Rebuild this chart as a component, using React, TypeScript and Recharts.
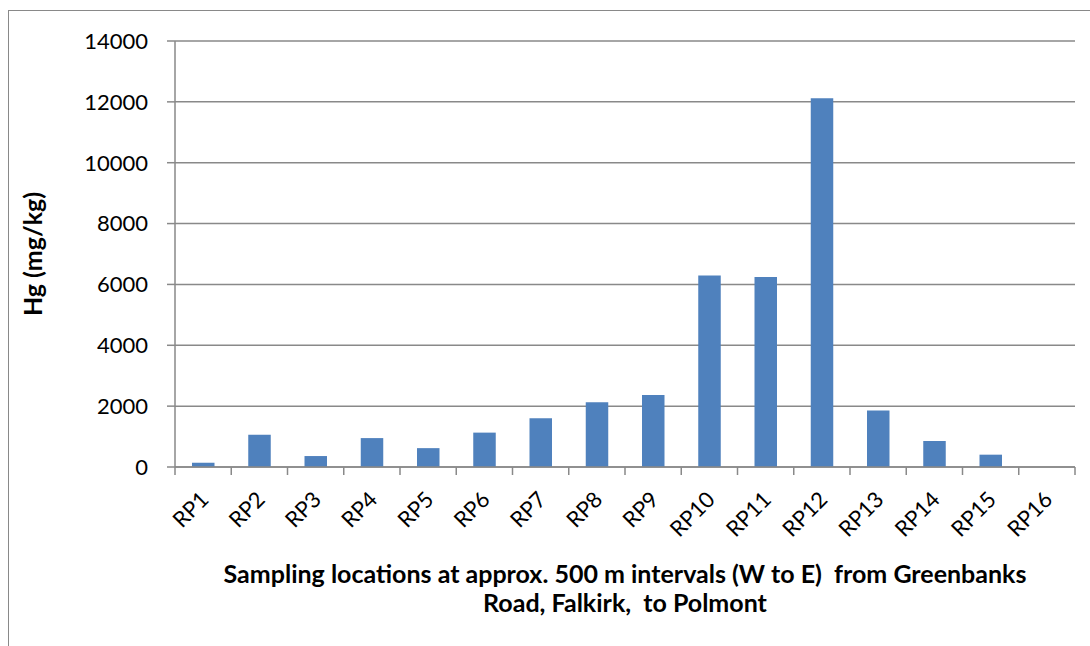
import React from "react";
import { BarChart, Bar, XAxis, YAxis, CartesianGrid, Label } from "recharts";

// Hg concentrations along the sampling transect
const locations = [
  "RP1", "RP2", "RP3", "RP4", "RP5", "RP6", "RP7", "RP8",
  "RP9", "RP10", "RP11", "RP12", "RP13", "RP14", "RP15", "RP16",
];
const hgValues = [140, 1060, 360, 950, 620, 1130, 1600, 2125, 2365, 6290, 6245, 12115, 1860, 855, 405, 0];
const yTicks = [0, 2000, 4000, 6000, 8000, 10000, 12000, 14000];

const titleLines = [
  "Sampling locations at approx. 500 m intervals (W to E)  from Greenbanks",
  "Road, Falkirk,  to Polmont",
];

const data = locations.map((name, i) => ({ name, hg: hgValues[i] }));

const FONT = "Lato, 'Open Sans', sans-serif";
const GREY = "#898989";
const BAR_BLUE = "#4F81BD";
const PLOT_WIDTH = 900;
const BAND = PLOT_WIDTH / locations.length;

const CategoryTick = (props: any) => {
  const { x, y, payload, index } = props;
  const half = BAND / 2;
  const ax = x + 7;
  const ay = y + 34;
  return (
    <g>
      <line x1={x - half} y1={y} x2={x - half} y2={y + 8} stroke={GREY} strokeWidth={1.5} />
      {index === locations.length - 1 && (
        <line x1={x + half} y1={y} x2={x + half} y2={y + 8} stroke={GREY} strokeWidth={1.5} />
      )}
      <text
        x={ax}
        y={ay}
        transform={`rotate(-45 ${ax} ${ay})`}
        textAnchor="end"
        fontSize={22}
        fontFamily={FONT}
        fill="#000"
      >
        {payload.value}
      </text>
    </g>
  );
};

const XTitle = (props: any) => {
  const { x, y, width } = props.viewBox;
  const cx = x + width / 2;
  return (
    <g>
      {titleLines.map((line, i) => (
        <text
          key={i}
          x={cx}
          y={y + 110 + i * 29}
          textAnchor="middle"
          dominantBaseline="middle"
          fontSize={25}
          fontWeight="bold"
          fontFamily={FONT}
          fill="#000"
          style={{ whiteSpace: "pre" }}
        >
          {line}
        </text>
      ))}
    </g>
  );
};

const YTitle = (props: any) => {
  const { y, height } = props.viewBox;
  const cx = 36;
  const cy = y + height / 2;
  return (
    <text
      x={cx}
      y={cy}
      transform={`rotate(-90 ${cx} ${cy})`}
      textAnchor="middle"
      dominantBaseline="middle"
      fontSize={25}
      fontWeight="bold"
      fontFamily={FONT}
      fill="#000"
    >
      Hg (mg/kg)
    </text>
  );
};

export default function App() {
  return (
    <div style={{ position: "absolute", left: 0, top: 0, width: 1090, height: 646, overflow: "hidden", background: "#fff" }}>
      <div
        style={{
          position: "absolute",
          left: 8,
          top: 10,
          width: 1081,
          height: 700,
          borderLeft: `1.5px solid ${GREY}`,
          borderTop: `1.5px solid ${GREY}`,
        }}
      />
      <div style={{ position: "absolute", left: 0, top: 0 }}>
        <BarChart
          width={1090}
          height={646}
          data={data}
          margin={{ top: 41, right: 15, left: 0, bottom: 0 }}
          barSize={22.5}
        >
          <CartesianGrid vertical={false} stroke={GREY} strokeWidth={1.5} />
          <XAxis
            dataKey="name"
            height={179}
            interval={0}
            tickSize={0}
            tickMargin={0}
            tickLine={false}
            axisLine={{ stroke: GREY, strokeWidth: 1.5 }}
            tick={<CategoryTick />}
          >
            <Label content={<XTitle />} />
          </XAxis>
          <YAxis
            width={175}
            domain={[0, 14000]}
            ticks={yTicks}
            interval={0}
            tickSize={8}
            tickMargin={19}
            tickLine={{ stroke: GREY, strokeWidth: 1.5 }}
            axisLine={{ stroke: GREY, strokeWidth: 1.5 }}
            tick={{ fill: "#000", fontSize: 22, fontFamily: FONT }}
          >
            <Label content={<YTitle />} />
          </YAxis>
          <Bar dataKey="hg" fill={BAR_BLUE} isAnimationActive={false} />
        </BarChart>
      </div>
    </div>
  );
}
